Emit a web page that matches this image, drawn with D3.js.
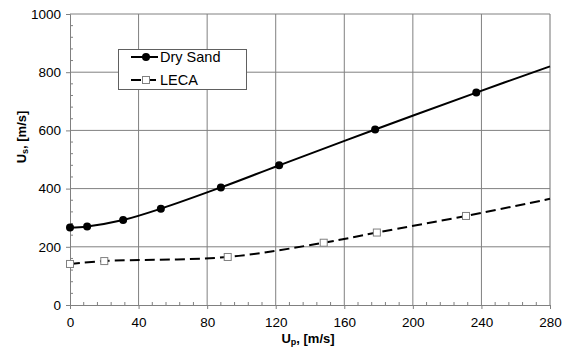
<!DOCTYPE html>
<html><head><meta charset="utf-8">
<script src="https://cdn.jsdelivr.net/npm/d3@7"></script>
<style>body{margin:0;background:#fff}svg{display:block;font-family:"Liberation Sans",Arial,sans-serif}</style>
</head><body><svg id="c" width="563" height="349"></svg>
<script>
// Data
const xTicks = [0, 40, 80, 120, 160, 200, 240, 280];
const yTicks = [0, 200, 400, 600, 800, 1000];
const sandUp = [0, 10, 31, 53, 88, 122, 178, 237];
const sandUs = [266, 270, 292, 331, 404, 480, 603, 730];
const sandEnd = [[280, 820]];            // curve continues without marker
const lecaUp = [0, 20, 92, 148, 179, 231];
const lecaUs = [141, 151, 165, 214, 249, 306];
const lecaEnd = [[280, 365]];
const seriesNames = ["Dry Sand", "LECA"];

const svg = d3.select("#c");
const L = 70, R = 550, T = 14, B = 305;
const x = d3.scaleLinear().domain([0, 280]).range([L, R]);
const y = d3.scaleLinear().domain([0, 1000]).range([B, T]);
const grid = "#808080";

// gridlines
svg.append("g").selectAll("line").data(xTicks.slice(1)).join("line")
  .attr("x1", d => x(d)).attr("x2", d => x(d)).attr("y1", T).attr("y2", B)
  .attr("stroke", d => d === 280 ? "#a0a0a0" : grid).attr("stroke-width", d => d === 280 ? 1.5 : 1);
svg.append("g").selectAll("line").data(yTicks.slice(1)).join("line")
  .attr("x1", L).attr("x2", R).attr("y1", d => y(d)).attr("y2", d => y(d))
  .attr("stroke", grid).attr("stroke-width", 1);

// axes
const fs = "13.5px";
const xAxis = svg.append("g").attr("transform", `translate(0,${B})`)
  .call(d3.axisBottom(x).tickValues(xTicks).tickFormat(d3.format("d")).tickSize(4).tickPadding(8));
const yAxis = svg.append("g").attr("transform", `translate(${L},0)`)
  .call(d3.axisLeft(y).tickValues(yTicks).tickFormat(d3.format("d")).tickSize(4).tickPadding(5));
[xAxis, yAxis].forEach(a => {
  a.select(".domain").attr("stroke", grid);
  a.selectAll(".tick line").attr("stroke", grid);
  a.selectAll(".tick text").attr("fill", "#000").style("font-size", fs)
   .style("font-family", '"Liberation Sans",Arial,sans-serif');
});
// minor ticks (inside)
const xMinor = d3.range(0, 281, 8).filter(v => v % 40 !== 0);
svg.append("g").selectAll("line").data(xMinor).join("line")
  .attr("x1", d => x(d)).attr("x2", d => x(d)).attr("y1", B).attr("y2", B - 3)
  .attr("stroke", grid);
const yMinor = d3.range(0, 1001, 40).filter(v => v % 200 !== 0);
svg.append("g").selectAll("line").data(yMinor).join("line")
  .attr("x1", L).attr("x2", L + 3).attr("y1", d => y(d)).attr("y2", d => y(d))
  .attr("stroke", grid);

// axis titles
const xt = svg.append("text").attr("x", 308).attr("y", 343).attr("text-anchor", "middle")
  .style("font-size", "13px").style("font-weight", "bold");
xt.append("tspan").text("U");
xt.append("tspan").attr("baseline-shift", "-25%").style("font-size", "9px").text("p");
xt.append("tspan").text(", [m/s]");
const yt = svg.append("text").attr("transform", "translate(26,137) rotate(-90)").attr("text-anchor", "middle")
  .style("font-size", "13px").style("font-weight", "bold");
yt.append("tspan").text("U");
yt.append("tspan").attr("baseline-shift", "-25%").style("font-size", "9px").text("s");
yt.append("tspan").text(", [m/s]");

// lines
const sandPts = sandUp.map((u, i) => [u, sandUs[i]]).concat(sandEnd);
const lecaPts = lecaUp.map((u, i) => [u, lecaUs[i]]).concat(lecaEnd);
const line = d3.line().x(d => x(d[0])).y(d => y(d[1])).curve(d3.curveCatmullRom.alpha(0.5));
svg.append("path").attr("d", line(sandPts)).attr("fill", "none").attr("stroke", "#000").attr("stroke-width", 2);
svg.append("path").attr("d", line(lecaPts)).attr("fill", "none").attr("stroke", "#000").attr("stroke-width", 2)
  .attr("stroke-dasharray", "10,5");

// markers
svg.append("g").selectAll("circle").data(sandUp).join("circle")
  .attr("cx", d => x(d)).attr("cy", (d, i) => y(sandUs[i])).attr("r", 4).attr("fill", "#000");
svg.append("g").selectAll("rect").data(lecaUp).join("rect")
  .attr("x", d => x(d) - 3.5).attr("y", (d, i) => y(lecaUs[i]) - 3.5).attr("width", 7).attr("height", 7)
  .attr("fill", "#fff").attr("stroke", "#808080").attr("stroke-width", 1);

// legend
const lg = svg.append("g");
lg.append("rect").attr("x", 118.5).attr("y", 49.5).attr("width", 128).attr("height", 40)
  .attr("fill", "#fff").attr("stroke", "#606060");
lg.append("line").attr("x1", 131).attr("x2", 158).attr("y1", 57).attr("y2", 57).attr("stroke", "#000").attr("stroke-width", 2);
lg.append("circle").attr("cx", 146).attr("cy", 57).attr("r", 4).attr("fill", "#000");
lg.append("line").attr("x1", 131).attr("x2", 158).attr("y1", 80).attr("y2", 80).attr("stroke", "#000").attr("stroke-width", 2)
  .attr("stroke-dasharray", "10,5");
lg.append("rect").attr("x", 142.5).attr("y", 76.5).attr("width", 7).attr("height", 7)
  .attr("fill", "#fff").attr("stroke", "#808080");
lg.selectAll("text").data(seriesNames).join("text")
  .attr("x", 160).attr("y", (d, i) => 62 + i * 23).style("font-size", "14.5px").text(d => d);
</script></body></html>
